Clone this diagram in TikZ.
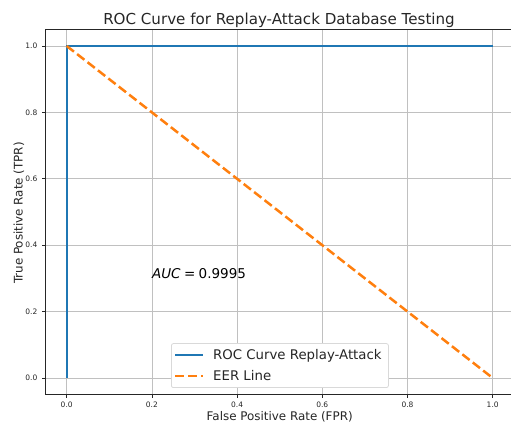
\documentclass[tikz,border=0pt]{standalone}
\usepackage{fontspec}
\setmainfont{DejaVu Sans}
\usepackage{xcolor}
\usepackage{tikz}
\definecolor{rocblue}{RGB}{31,119,180}
\definecolor{eerorange}{RGB}{255,127,14}
\definecolor{gridgray}{RGB}{176,176,176}
\tikzset{
    frame/.style={draw=black!85, line width=0.8pt},
    gridline/.style={draw=gridgray!80, line width=0.8pt},
    tickmark/.style={draw=black!85, line width=0.8pt},
    ticklabel/.style={font=\fontsize{7.5}{8}\selectfont, text=black!85, inner sep=0pt},
    axislabel/.style={font=\fontsize{11.9}{13}\selectfont, text=black!85, inner sep=0pt},
    roc/.style={draw=rocblue, line width=2.4pt},
    eer/.style={draw=eerorange, line width=2.5pt, dash pattern=on 9.2pt off 4pt},
    legendbox/.style={draw=black!15, fill=white, rounded corners=2pt, line width=0.8pt},
    legendtext/.style={font=\fontsize{13.3}{15}\selectfont, text=black!85, inner sep=0pt, anchor=base west}
}
\begin{document}
\begin{tikzpicture}[x=1pt, y=1pt]
    \useasboundingbox (0,0) rectangle (511,427);
    % Plot area in data units
    \begin{scope}[shift={(66.7,49)}, x=426pt, y=332pt]
        % Grid
        \foreach \t in {0.0,0.2,0.4,0.6,0.8,1.0} {
            \draw[gridline] (\t,-0.05) -- (\t,1.05);
            \draw[gridline] (-0.05,\t) -- (1.05,\t);
        }
        % Frame
        \draw[frame] (-0.05,-0.05) rectangle (1.05,1.05);
        % Ticks
        \foreach \t in {0.0,0.2,0.4,0.6,0.8,1.0} {
            \draw[tickmark] (\t,-0.05) -- ++(0,-3.5pt);
            \draw[tickmark] (-0.05,\t) -- ++(-3.5pt,0);
            \node[ticklabel, anchor=base] (xt\t) at ([yshift=-12.6pt]\t,-0.05) {\t};
            \node[ticklabel, anchor=east] (yt\t) at ([xshift=-7.8pt]-0.05,\t) {\t};
        }
        % Curves
        \draw[roc] (0,0) -- (0,1) -- (1,1);
        \draw[eer] (0,1) -- (1,0);
        % AUC
        \node[font=\fontsize{13.5}{15}\selectfont, inner sep=0pt, anchor=base west] (auc) at (0.2,0.3) {\textit{AUC}\hspace{0.25em}=\hspace{0.25em}0.9995};
    \end{scope}
    % Labels
    \node[font=\fontsize{15.1}{17}\selectfont, text=black!85, inner sep=0pt, anchor=base] (title) at (279,402) {ROC Curve for Replay-Attack Database Testing};
    \node[axislabel, anchor=base] (xlabel) at (279.7,6) {False Positive Rate (FPR)};
    \node[axislabel, anchor=base, rotate=90] (ylabel) at (22.5,214) {True Positive Rate (TPR)};
    % Legend
    \node[legendbox, minimum width=217pt, minimum height=44pt, anchor=south west] (legend) at (171,39) {};
    \coordinate (rocA) at (175,72);
    \coordinate (rocB) at (203,72);
    \coordinate (eerA) at (175,51);
    \coordinate (eerB) at (203,51);
    \draw[roc] (rocA) -- (rocB);
    \draw[eer] (eerA) -- (eerB);
    \node[legendtext] (rocname) at (213,67.5) {ROC Curve Replay-Attack};
    \node[legendtext] (eername) at (213,46.5) {EER Line};
\end{tikzpicture}
\end{document}
